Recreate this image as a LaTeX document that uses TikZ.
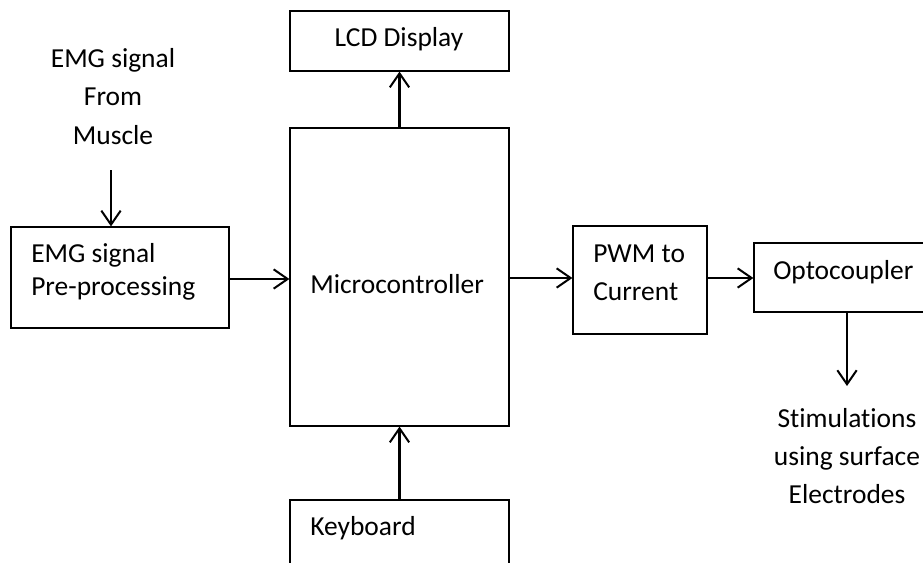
\documentclass[tikz,border=0pt]{standalone}
\usepackage{fontspec}
\setmainfont[Ligatures=NoCommon]{Carlito}
\usetikzlibrary{arrows.meta}
\begin{document}
\begin{tikzpicture}[x=0.75pt,y=-0.75pt,
  block/.style={draw=black, line width=0.9pt, rectangle, inner sep=0pt},
  txt/.style={inner sep=0pt, font=\fontsize{20.6}{28.5}\selectfont},
  arr/.style={line width=1.6pt, -{Straight Barb[length=10.5pt,width=14.5pt,line width=1.5pt]}}]
\useasboundingbox (0,0) rectangle (923,563);
\clip (0,0) rectangle (923,563);

% blocks
\node[block, minimum width=164.25pt, minimum height=45pt]   (lcd)  at (399.5,41)  {};
\node[block, minimum width=164.25pt, minimum height=223.5pt] (mcu) at (399.5,277) {};
\node[block, minimum width=164.25pt, minimum height=75pt]   (kbd)  at (399.5,550) {};
\node[block, minimum width=163.5pt, minimum height=75.75pt] (pre)  at (120,277.5) {};
\node[block, minimum width=100.5pt, minimum height=81pt]    (pwm)  at (640,280)   {};
\node[block, minimum width=154.5pt, minimum height=51.75pt] (opto) at (857,277.5) {};

% labels
\node[txt, anchor=base] (srcA) at (113,68)  {EMG signal};
\node[txt, anchor=base] (srcB) at (113,106) {From};
\node[txt, anchor=base] (srcC) at (113,144) {Muscle};
\node[txt, anchor=base west] (preA) at (31,262) {EMG signal};
\node[txt, anchor=base west] (preB) at (31,295) {Pre-processing};
\node[txt, anchor=base] (lcdT) at (399,47) {LCD Display};
\node[txt, anchor=base west] (mcuT) at (310,293) {Microcontroller};
\node[txt, anchor=base west] (kbdT) at (310,535) {Keyboard};
\node[txt, anchor=base west] (pwmA) at (593,262) {PWM to};
\node[txt, anchor=base west] (pwmB) at (593,300) {Current};
\node[txt, anchor=base west] (optoT) at (773,279) {Optocoupler};
\node[txt, anchor=base] (stA) at (847,427) {Stimulations};
\node[txt, anchor=base] (stB) at (847,465) {using surface};
\node[txt, anchor=base] (stC) at (847,503) {Electrodes};

% free ends of the input and output arrows
\coordinate (srcEnd) at (111,170);
\coordinate (stimEnd) at (847,386);

% connectors
\draw[arr] (srcEnd) -- (srcEnd |- pre.north);
\draw[arr] (pre.east |- 0,279) -- (mcu.west |- 0,279);
\draw[arr] (mcu.north) -- (lcd.south);
\draw[arr] (kbd.north) -- (mcu.south);
\draw[arr] (mcu.east |- 0,278) -- (pwm.west |- 0,278);
\draw[arr] (pwm.east |- 0,278) -- (opto.west |- 0,278);
\draw[arr] (opto.south -| stimEnd) -- (stimEnd);
\end{tikzpicture}
\end{document}
